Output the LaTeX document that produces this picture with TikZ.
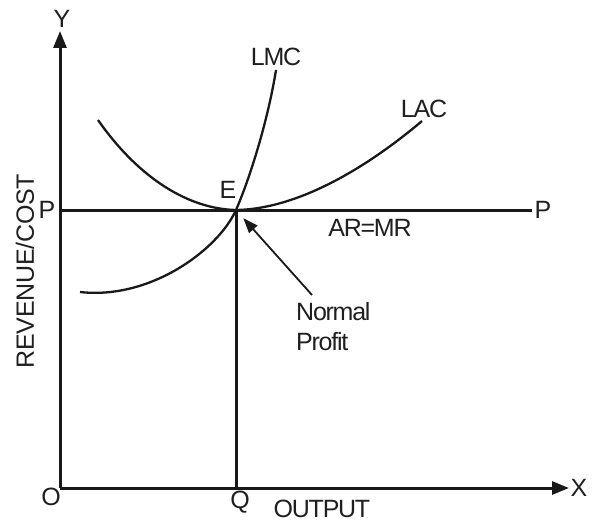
\documentclass[tikz,border=0pt]{standalone}
\usepackage{fontspec}
\setmainfont{Liberation Sans}[LetterSpace=-5]
\usetikzlibrary{arrows.meta}
\begin{document}
\begin{tikzpicture}[x=1pt,y=-1pt,
  lab/.style={font=\fontsize{25}{30}\selectfont, inner sep=0pt, text=black!88},
  axis/.style={line width=3pt, draw=black!90},
  curve/.style={line width=2.3pt, draw=black!90},
  bigtip/.style={-{Triangle[length=17pt,width=13pt]}}]
\useasboundingbox (0,0) rectangle (597,527);
\coordinate (O) at (60,488);
\coordinate (Ytop) at (60,31);
\coordinate (Xend) at (569,488);
\coordinate (E) at (236,210);
\coordinate (Q) at (236,488);
\coordinate (Pl) at (60,210);
\coordinate (Pr) at (532,210);
\coordinate (npTail) at (312,295);
\coordinate (lmcA) at (80,292);
\coordinate (lmcB) at (276,70);
\coordinate (lacA) at (98,120);
\coordinate (lacB) at (422,121);
% axes
\draw[axis,bigtip] (O) -- (Ytop);
\draw[axis,bigtip] (O) -- (Xend);
\draw[axis] (Pl) -- (Pr);
\draw[axis] (E) -- (Q);
% curves
\draw[curve] (lmcA) .. controls (150,300) and (218,250) .. (E) .. controls (250,178) and (268,120) .. (lmcB);
\draw[curve] (lacA) .. controls (140,180) and (190,209) .. (E) .. controls (300,209) and (370,165) .. (lacB);
% arrow
\draw[line width=1.8pt, draw=black!90, -{Triangle[length=15pt,width=11pt]}, shorten >=11pt] (npTail) -- (E);
% labels
\node[lab] (ylab) at (62,19) {Y};
\node[lab] (xlab) at (579,488) {X};
\node[lab] (olab) at (51,497) {O};
\node[lab] (qlab) at (240,502) {Q};
\node[lab] (out) at (322,509) {OUTPUT};
\node[lab] (pl) at (47,210) {P};
\node[lab] (pr) at (543,210) {P};
\node[lab] (elab) at (228,190) {E};
\node[lab] (lmc) at (276,57) {LMC};
\node[lab] (lac) at (424,109) {LAC};
\node[lab] (armr) at (370,228) {AR=MR};
\node[lab, anchor=north west, align=left] (np) at (296,302) {Normal\\Profit};
\node[lab, rotate=90] (rc) at (25,271) {\addfontfeatures{LetterSpace=-1}REVENUE/COST};
\end{tikzpicture}
\end{document}
